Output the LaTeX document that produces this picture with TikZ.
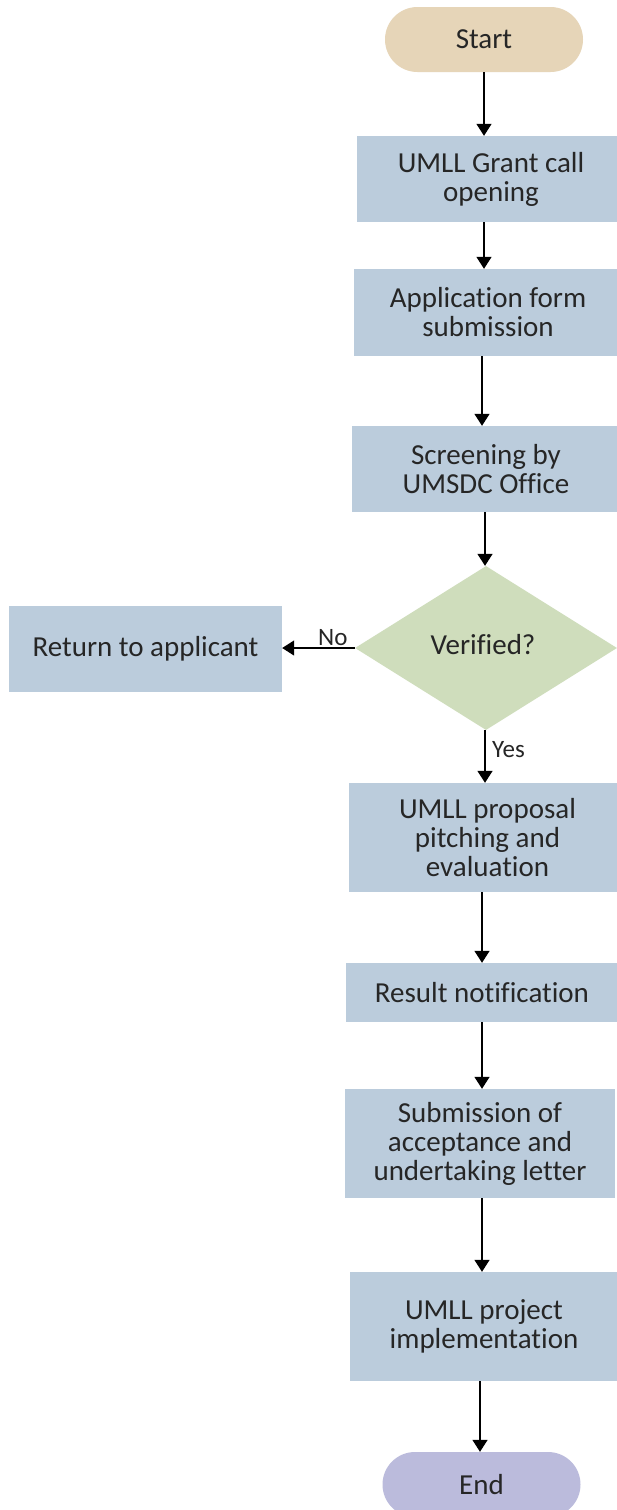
\documentclass[tikz,border=0pt]{standalone}
\usepackage{fontspec}
\setmainfont{Carlito}[Ligatures=NoCommon]
\usetikzlibrary{shapes.geometric,shapes.misc,arrows.meta}
\definecolor{startc}{HTML}{E6D5B8}
\definecolor{boxc}{HTML}{BBCCDC}
\definecolor{diac}{HTML}{CFDDBC}
\definecolor{endc}{HTML}{BBBBDC}
\definecolor{txt}{HTML}{262626}
\begin{document}
\begin{tikzpicture}[x=1pt,y=-1pt,
  every node/.style={text=txt,font=\fontsize{29}{29}\selectfont,align=center,inner sep=0pt},
  procbox/.style={rectangle,fill=boxc,draw=none},
  term/.style={rounded rectangle,fill=#1,draw=none,minimum width=198pt,minimum height=65pt},
  decision/.style={diamond,fill=diac,draw=none,minimum width=262pt,minimum height=164pt},
  lbl/.style={font=\fontsize{25}{26}\selectfont},
  arr/.style={line width=1.5pt,draw=black,-{Triangle[width=15pt,length=12pt]}}]
\useasboundingbox (0,0) rectangle (617,1510);
\clip (0,0) rectangle (617,1510);
\fill[white] (0,0) rectangle (617,1510);
\node[term=startc] (start) at (484,39.5) {Start};
\node[procbox,minimum width=268pt,minimum height=86pt] (b1) at (491,179) {UMLL Grant call\\opening};
\node[procbox,minimum width=268pt,minimum height=87pt] (b2) at (488,312.5) {Application form\\submission};
\node[procbox,minimum width=268pt,minimum height=86pt] (b3) at (486,469) {Screening by\\UMSDC Office};
\node[decision] (dec) at (486,648) {};
\node (dectxt) at (483,645) {Verified?};
\node[procbox,minimum width=273pt,minimum height=86pt] (ret) at (145.5,649) {Return to applicant};
\node[procbox,minimum width=277pt,minimum height=109pt] (b5) at (487.5,837.5) {UMLL proposal\\pitching and\\evaluation};
\node[procbox,minimum width=272pt,minimum height=59pt] (b6) at (482,992.5) {Result notification};
\node[procbox,minimum width=270pt,minimum height=109pt] (b7) at (480,1143.5) {Submission of\\acceptance and\\undertaking letter};
\node[procbox,minimum width=268pt,minimum height=109pt] (b8) at (484,1326.5) {UMLL project\\implementation};
\node[term=endc] (end) at (481.5,1484.5) {End};
\coordinate (c1) at (484,0);
\coordinate (c2) at (482,0);
\coordinate (c3) at (485,0);
\coordinate (c4) at (480,0);
\draw[arr] (start.south -| c1) -- (b1.north -| c1);
\draw[arr] (b1.south -| c1) -- (b2.north -| c1);
\draw[arr] (b2.south -| c2) -- (b3.north -| c2);
\draw[arr] (b3.south -| c3) -- (dec.north -| c3);
\draw[arr] (dec.west) -- (ret.east |- dec.west);
\draw[arr] (dec.south -| c3) -- (b5.north -| c3);
\draw[arr] (b5.south -| c2) -- (b6.north -| c2);
\draw[arr] (b6.south -| c2) -- (b7.north -| c2);
\draw[arr] (b7.south -| c2) -- (b8.north -| c2);
\draw[arr] (b8.south -| c4) -- (end.north -| c4);
\node[lbl,anchor=south west] (no) at (318,646) {No};
\node[lbl,anchor=west] (yes) at (492,750) {Yes};
\end{tikzpicture}
\end{document}
